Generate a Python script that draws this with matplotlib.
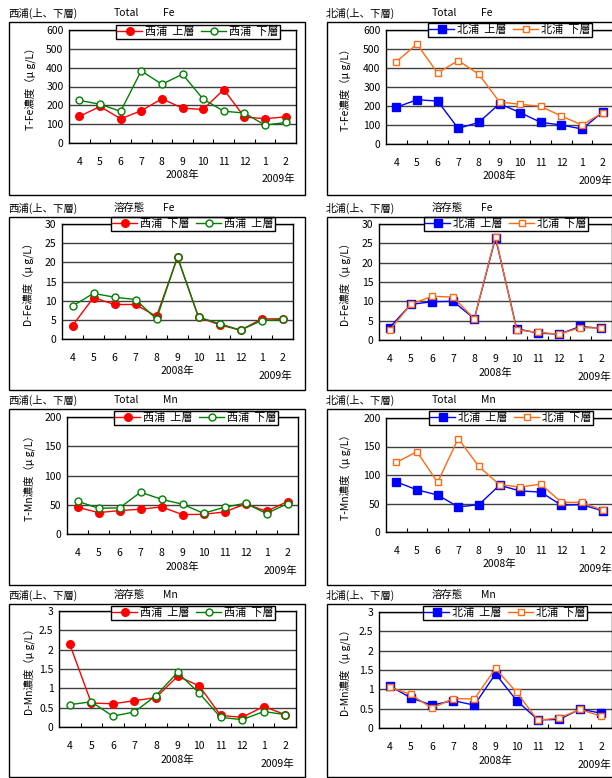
import matplotlib.pyplot as plt
from matplotlib.patches import Rectangle

plt.rcParams['font.family'] = ['Noto Sans CJK JP', 'DejaVu Sans']

W, H = 612, 778

months = ['4', '5', '6', '7', '8', '9', '10', '11', '12', '1', '2']

# 西浦 Total Fe
nishi_tfe_up = [141, 194, 129, 171, 235, 185, 178, 284, 138, 129, 139]
nishi_tfe_lo = [226, 206, 168, 383, 312, 365, 233, 169, 159, 95, 109]
# 北浦 Total Fe
kita_tfe_up = [193, 233, 226, 82, 114, 212, 165, 114, 100, 79, 168]
kita_tfe_lo = [433, 526, 374, 439, 367, 221, 209, 198, 147, 100, 165]
# 西浦 溶存態 Fe (legend order: 下層 red, 上層 green)
nishi_dfe_a = [3.5, 10.8, 9.0, 9.0, 5.9, 21.3, 5.7, 3.7, 2.3, 5.2, 5.3]
nishi_dfe_b = [8.6, 11.9, 10.9, 10.3, 5.2, 21.4, 5.7, 4.0, 2.3, 4.8, 5.1]
# 北浦 溶存態 Fe
kita_dfe_up = [3.2, 9.2, 9.9, 10.0, 5.5, 26.4, 2.9, 1.8, 1.5, 3.5, 3.0]
kita_dfe_lo = [2.5, 9.2, 11.3, 11.1, 5.5, 26.7, 2.6, 2.0, 1.5, 3.2, 3.1]
# 西浦 Total Mn
nishi_tmn_up = [45.7, 36.6, 40, 42.3, 46.3, 33.1, 33.7, 37.7, 51.4, 38.9, 55.4]
nishi_tmn_lo = [56, 44, 44.6, 71.4, 59.4, 50.9, 35.4, 45.7, 52.6, 34.9, 52]
# 北浦 Total Mn
kita_tmn_up = [88, 74, 65, 44, 48, 82, 72, 70, 47, 48, 37]
kita_tmn_lo = [122, 141, 87, 164, 115, 83, 79, 84, 52, 52, 38]
# 西浦 溶存態 Mn
nishi_dmn_up = [2.14, 0.62, 0.60, 0.68, 0.76, 1.31, 1.07, 0.30, 0.25, 0.53, 0.32]
nishi_dmn_lo = [0.58, 0.65, 0.28, 0.39, 0.81, 1.41, 0.88, 0.25, 0.19, 0.40, 0.32]
# 北浦 溶存態 Mn
kita_dmn_up = [1.09, 0.78, 0.59, 0.71, 0.59, 1.40, 0.71, 0.21, 0.22, 0.49, 0.38]
kita_dmn_lo = [1.06, 0.87, 0.51, 0.76, 0.75, 1.54, 0.92, 0.20, 0.26, 0.48, 0.30]

RED = '#FF0000'
GREEN = '#008000'
BLUE = '#0000FF'
ORANGE = '#FF6A13'

fig = plt.figure(figsize=(W / 100, H / 100), dpi=100)


def fx(px):
    return px / W


def fy(py):
    return 1 - py / H


def panel(box, frame, title, tx, ty, ylabel, ymax, ystep, s1, s2, legend_c, ylab_x):
    fl, ft, fr, fb = frame
    fig.patches.append(Rectangle((fx(fl), fy(fb)), fx(fr - fl), (fb - ft) / H,
                                 fill=False, ec='black', lw=1.0, transform=fig.transFigure))
    x0 = tx
    for part, off in zip(title, [0, 106, 155]):
        fig.text(fx(x0 + off), fy(ty), part, fontsize=7.5, va='center', ha='left')

    l, t, r, b = box
    ax = fig.add_axes([fx(l), fy(b), fx(r - l), (b - t) / H])
    x = list(range(len(months)))
    for data, label, color, marker, filled in (s1, s2):
        pass
    for data, label, color, marker, filled in [s1, s2]:
        ax.plot(x, data, color=color, lw=1.0, marker=marker, ms=5.5 if filled else 5,
                mfc=color if filled else 'white', mec=color, mew=1.0, label=label,
                clip_on=False, zorder=3)
    ax.set_xlim(-0.5, len(months) - 0.5)
    ax.set_ylim(0, ymax)
    yt = [i * ystep for i in range(int(round(ymax / ystep)) + 1)]
    ax.set_yticks(yt)
    ax.set_yticklabels([('%g' % v) for v in yt], fontsize=7.5)
    ax.set_xticks(x)
    ax.set_xticklabels(months, fontsize=7.5)
    ax.set_xticks([i + 0.5 for i in range(len(months) - 1)], minor=True)
    ax.tick_params(axis='x', which='major', length=0, pad=10)
    ax.tick_params(axis='x', which='minor', direction='in', length=3, width=0.8)
    ax.tick_params(axis='y', length=0, pad=4)
    ax.grid(axis='y', color='#404040', lw=1.0)
    ax.set_axisbelow(True)
    for sp in ax.spines.values():
        sp.set_color('black')
        sp.set_linewidth(1.0)
    ax.text(0.5, -0.28, '2008年', transform=ax.transAxes, fontsize=7.5, ha='center', va='center')
    ax.text(9.65, -0.32, '2009年', transform=ax.get_xaxis_transform(), fontsize=7.5,
            ha='center', va='center')
    fig.text(fx(ylab_x), fy((t + b) / 2), ylabel, rotation=90, fontsize=7.5,
             ha='center', va='center')
    leg = ax.legend(loc='center', bbox_to_anchor=(fx(legend_c[0]), fy(legend_c[1])),
                    bbox_transform=fig.transFigure, ncol=2, fontsize=8, frameon=True,
                    fancybox=False, edgecolor='black', framealpha=1, borderpad=0.15,
                    handlelength=2.2, handletextpad=0.3, columnspacing=0.6)
    leg.get_frame().set_linewidth(1.0)
    leg.set_zorder(5)
    return ax


# left column
panel((69, 30, 296, 143), (9, 22, 305, 195), ['西浦(上、下層)', 'Total', 'Fe'], 8, 13,
      'T-Fe濃度（μ g/L）', 600, 100,
      (nishi_tfe_up, '西浦  上層', RED, 'o', True),
      (nishi_tfe_lo, '西浦  下層', GREEN, 'o', False), (198, 32), 30)
panel((62, 224, 293, 339), (9, 217, 305, 390), ['西浦(上、下層)', '溶存態', 'Fe'], 8, 208,
      'D-Fe濃度（μ g/L）', 30, 5,
      (nishi_dfe_a, '西浦  下層', RED, 'o', True),
      (nishi_dfe_b, '西浦  上層', GREEN, 'o', False), (193, 224), 28)
panel((67, 417, 298, 534), (9, 409, 305, 585), ['西浦(上、下層)', 'Total', 'Mn'], 8, 400,
      'T-Mn濃度（μ g/L）', 200, 50,
      (nishi_tmn_up, '西浦  上層', RED, 'o', True),
      (nishi_tmn_lo, '西浦  下層', GREEN, 'o', False), (196, 418), 29)
panel((59, 611, 296, 727), (9, 604, 305, 777), ['西浦(上、下層)', '溶存態', 'Mn'], 8, 595,
      'D-Mn濃度（μ g/L）', 3, 0.5,
      (nishi_dmn_up, '西浦  上層', RED, 'o', True),
      (nishi_dmn_lo, '西浦  下層', GREEN, 'o', False), (193, 613), 29)

# right column
panel((386, 30, 613, 144), (327, 22, 620, 195), ['北浦(上、下層)', 'Total', 'Fe'], 326, 13,
      'T-Fe濃度（μ g/L）', 600, 100,
      (kita_tfe_up, '北浦  上層', BLUE, 's', True),
      (kita_tfe_lo, '北浦  下層', ORANGE, 's', False), (510, 30), 345)
panel((379, 224, 612, 340), (327, 217, 620, 390), ['北浦(上、下層)', '溶存態', 'Fe'], 326, 208,
      'D-Fe濃度（μ g/L）', 30, 5,
      (kita_dfe_up, '北浦  上層', BLUE, 's', True),
      (kita_dfe_lo, '北浦  下層', ORANGE, 's', False), (506, 224), 345)
panel((386, 418, 613, 532), (327, 409, 620, 585), ['北浦(上、下層)', 'Total', 'Mn'], 326, 400,
      'T-Mn濃度（μ g/L）', 200, 50,
      (kita_tmn_up, '北浦  上層', BLUE, 's', True),
      (kita_tmn_lo, '北浦  下層', ORANGE, 's', False), (511, 418), 345)
panel((379, 612, 612, 728), (327, 604, 620, 777), ['北浦(上、下層)', '溶存態', 'Mn'], 326, 595,
      'D-Mn濃度（μ g/L）', 3, 0.5,
      (kita_dmn_up, '北浦  上層', BLUE, 's', True),
      (kita_dmn_lo, '北浦  下層', ORANGE, 's', False), (505, 613), 345)

fig.savefig('out.png', dpi=100)
